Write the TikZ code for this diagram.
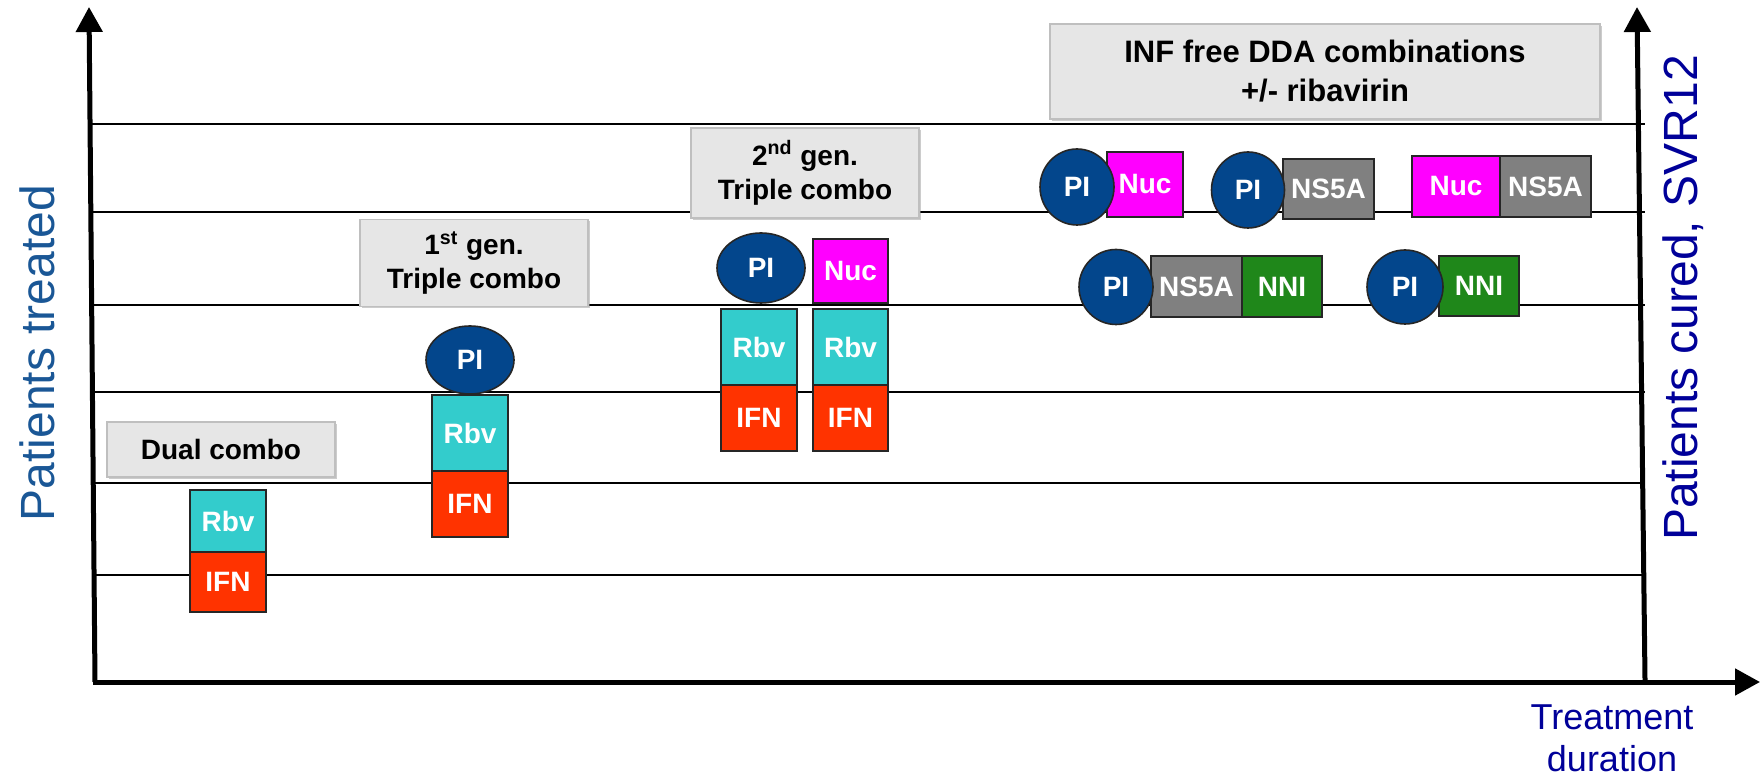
\documentclass[tikz,border=0pt]{standalone}
\usepackage{fontspec}
\setmainfont{Liberation Sans}
\usepackage{tikz}
\usetikzlibrary{arrows.meta,shapes.geometric,shadows}

\definecolor{rbvcol}{RGB}{51,204,204}
\definecolor{ifncol}{RGB}{255,51,0}
\definecolor{picol}{RGB}{3,70,140}
\definecolor{nuccol}{RGB}{255,0,255}
\definecolor{nscol}{RGB}{128,128,128}
\definecolor{nnicol}{RGB}{31,135,26}
\definecolor{treatblue}{RGB}{26,87,150}
\definecolor{curednavy}{RGB}{0,0,153}
\definecolor{panelgray}{RGB}{230,230,230}

\begin{document}
\begin{tikzpicture}
  [x=0.5pt, y=-0.5pt,
   axis/.style={line width=2.5pt, -{Triangle[width=13pt,length=12.5pt]}},
   gridline/.style={line width=1pt},
   panel/.style={fill=panelgray, draw=black!25, line width=0.6pt, align=center,
     font=\fontsize{14}{17}\selectfont\bfseries, inner sep=0,
     drop shadow={shadow xshift=1pt, shadow yshift=-1pt, fill=black!40, opacity=0.5}},
   drug/.style={draw=black!85, line width=0.8pt, text=white, inner sep=0,
     font=\fontsize{14}{16}\selectfont\bfseries},
   rbv/.style={drug, fill=rbvcol},
   ifn/.style={drug, fill=ifncol},
   nuc/.style={drug, fill=nuccol},
   nsa/.style={drug, fill=nscol},
   nni/.style={drug, fill=nnicol},
   pi/.style={drug, ellipse, fill=picol}]
  \useasboundingbox (0,0) rectangle (1760,779);

  % grid
  \foreach \gy in {124,212,305,392,483,575}
    \draw[gridline] (92,\gy) -- (1645,\gy);

  % axes
  \coordinate (o) at (95,682);
  \coordinate (ytop) at (89,7);
  \coordinate (xo) at (93,682);
  \coordinate (xend) at (1760,682);
  \coordinate (ro) at (1645,680);
  \coordinate (rtop) at (1637,7);
  \draw[axis] (o) -- (ytop);
  \draw[axis] (xo) -- (xend);
  \draw[axis] (ro) -- (rtop);

  \node[rotate=90, text=treatblue, font=\fontsize{24}{28}\selectfont] (ylabel) at (37,353) {Patients treated};
  \node[rotate=90, text=curednavy, font=\fontsize{24}{28}\selectfont] (rlabel) at (1683,298) {Patients cured, SVR12};
  \node[text=curednavy, align=center, font=\fontsize{18}{21}\selectfont] (xlabel) at (1612,738) {Treatment\\duration};

  % dual combo
  \node[panel, minimum width=114pt, minimum height=27.5pt] (dual) at (221,449.5) {Dual combo};
  \node[rbv, minimum width=38pt, minimum height=31pt] (rbv1) at (228,521) {Rbv};
  \node[ifn, minimum width=38pt, minimum height=30pt] (ifn1) at (228,582) {IFN};

  % 1st gen
  \node[panel, minimum width=114pt, minimum height=43.5pt] (gen1) at (474,263) {1\textsuperscript{st} gen.\\Triple combo};
  \node[rbv, minimum width=38pt, minimum height=38pt] (rbv2) at (470,433) {Rbv};
  \node[ifn, minimum width=38pt, minimum height=33pt] (ifn2) at (470,504) {IFN};
  \node[pi, minimum width=44pt, minimum height=34pt] (pi1) at (470,360) {PI};

  % 2nd gen
  \node[panel, minimum width=114pt, minimum height=45pt] (gen2) at (805,173) {2\textsuperscript{nd} gen.\\Triple combo};
  \node[rbv, minimum width=38pt, minimum height=38pt] (rbv3) at (759,347) {Rbv};
  \node[ifn, minimum width=38pt, minimum height=33pt] (ifn3) at (759,418) {IFN};
  \node[nuc, minimum width=37.5pt, minimum height=32pt] (nuc1) at (850.5,271) {Nuc};
  \node[rbv, minimum width=37.5pt, minimum height=38pt] (rbv4) at (850.5,347) {Rbv};
  \node[ifn, minimum width=37.5pt, minimum height=33pt] (ifn4) at (850.5,418) {IFN};
  \node[pi, minimum width=44pt, minimum height=35pt] (pi2) at (761,268) {PI};

  % interferon free
  \node[panel, minimum width=275pt, minimum height=47.5pt, font=\fontsize{15.5}{19.5}\selectfont\bfseries] (ifree) at (1325,71.5) {INF free DDA combinations\\+/- ribavirin};
  \node[nuc, minimum width=38pt, minimum height=32.5pt] (nuca) at (1145,184.5) {Nuc};
  \node[nsa, minimum width=45.5pt, minimum height=30pt] (nsb) at (1328.5,189) {NS5A};
  \node[nuc, minimum width=44pt, minimum height=30.5pt] (nucc) at (1456,186.5) {Nuc};
  \node[nsa, minimum width=45.5pt, minimum height=30.5pt] (nsc) at (1545.5,186.5) {NS5A};
  \node[nsa, minimum width=45.5pt, minimum height=30.5pt] (nsd) at (1196.5,286.5) {NS5A};
  \node[nni, minimum width=40pt, minimum height=30.5pt] (nnid) at (1282,286.5) {NNI};
  \node[nni, minimum width=40pt, minimum height=30pt] (nnie) at (1479,286) {NNI};
  \node[pi, minimum width=37pt, minimum height=38pt] (pia) at (1077,187) {PI};
  \node[pi, minimum width=36.5pt, minimum height=38pt] (pib) at (1248,190) {PI};
  \node[pi, minimum width=37pt, minimum height=37.5pt] (pid) at (1116,287) {PI};
  \node[pi, minimum width=38pt, minimum height=37pt] (pie) at (1405,287) {PI};
\end{tikzpicture}
\end{document}
